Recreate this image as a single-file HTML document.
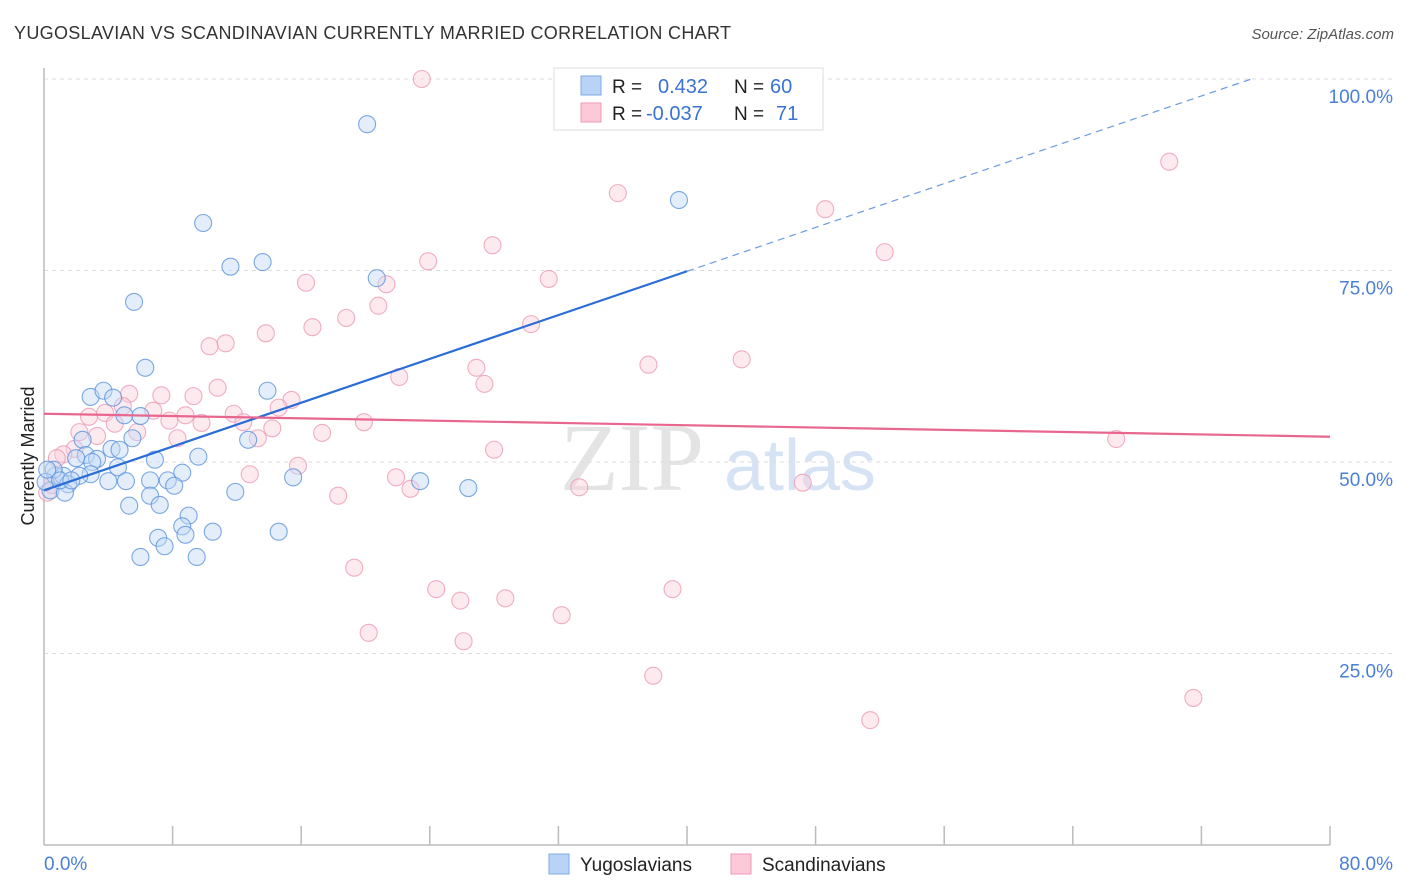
<!DOCTYPE html>
<html><head><meta charset="utf-8"><style>
body{margin:0;background:#fff;font-family:"Liberation Sans",sans-serif;}
#wrap{position:relative;width:1406px;height:892px;overflow:hidden;}
</style></head><body>
<div id="wrap">
<svg id="svg" width="1406" height="892" xmlns="http://www.w3.org/2000/svg">
<text x="14" y="39" font-size="18" fill="#333" letter-spacing="0.32">YUGOSLAVIAN VS SCANDINAVIAN CURRENTLY MARRIED CORRELATION CHART</text>
<text x="1394" y="39" font-size="15" fill="#555" font-style="italic" text-anchor="end">Source: ZipAtlas.com</text>
<text x="632" y="490" font-size="96" fill="#e4e4e4" font-family="Liberation Serif" text-anchor="middle">ZIP</text>
<text x="800" y="490" font-size="72" fill="#d6e3f5" text-anchor="middle">atlas</text>
<g id="grid"></g>
<g id="axes"></g>
<g id="pts"></g>
<g id="trend"></g>
<text transform="translate(34,456) rotate(-90)" font-size="18" fill="#222" text-anchor="middle">Currently Married</text>
<g>
<rect x="554" y="68" width="269" height="62" fill="#fff" stroke="#ddd"/>
<rect x="581" y="76" width="20" height="19" fill="#b8d3f5" stroke="#7fa9e6"/>
<rect x="581" y="103" width="20" height="19" fill="#fbc9d7" stroke="#ef9ab4"/>
<text x="612" y="93" font-size="19" fill="#222">R = </text>
<text x="658" y="93" font-size="20" fill="#3a72d4">0.432</text>
<text x="734" y="93" font-size="19" fill="#222">N = </text>
<text x="770" y="93" font-size="20" fill="#3a72d4">60</text>
<text x="612" y="120" font-size="19" fill="#222">R = </text>
<text x="646" y="120" font-size="20" fill="#3a72d4">-0.037</text>
<text x="734" y="120" font-size="19" fill="#222">N = </text>
<text x="776" y="120" font-size="20" fill="#3a72d4">71</text>
</g>
<g>
<rect x="549" y="854" width="20" height="20" fill="#b8d3f5" stroke="#7fa9e6"/>
<text x="580" y="871" font-size="19" fill="#222">Yugoslavians</text>
<rect x="731" y="854" width="20" height="20" fill="#fbc9d7" stroke="#ef9ab4"/>
<text x="762" y="871" font-size="19" fill="#222">Scandinavians</text>
</g>
</svg>
</div>
<script>
const yTicks=[25,50,75,100];
const yTickLabels=["25.0%","50.0%","75.0%","100.0%"];
const blueX=[20.1,39.5,9.9,11.6,13.6,20.7,5.6,6.3,2.9,3.7,4.3,13.9,5.0,6.0,2.4,5.5,12.7,4.2,4.7,2.6,2.0,3.3,6.9,9.6,3.0,4.6,2.9,0.7,1.2,2.2,8.6,15.5,23.4,6.6,7.7,4.0,5.1,8.1,1.5,0.4,1.3,11.9,26.4,6.6,5.3,7.2,9.0,8.6,10.5,14.6,7.1,8.8,7.5,6.0,9.5,0.6,0.1,0.2,1.0,1.7];
const blueY=[94.1,84.2,81.2,75.5,76.1,74.0,70.9,62.3,58.5,59.3,58.4,59.3,56.1,56.0,52.9,53.1,52.9,51.7,51.6,50.9,50.5,50.4,50.3,50.7,50.0,49.3,48.4,48.2,48.2,48.2,48.6,48.0,47.5,47.6,47.6,47.5,47.5,46.9,47.1,46.3,46.0,46.1,46.6,45.6,44.3,44.4,43.0,41.6,40.9,40.9,40.1,40.5,39.0,37.6,37.6,49.0,47.4,49.0,47.6,47.6];
const pinkX=[23.5,70.0,35.7,48.6,52.3,27.9,23.9,31.4,16.3,21.3,20.8,18.8,16.7,30.3,13.8,11.3,10.3,43.4,37.6,26.9,22.1,27.4,10.8,7.3,5.3,9.3,15.4,14.6,4.9,6.8,11.8,8.8,2.8,3.8,7.8,12.4,19.9,9.8,4.4,14.2,5.8,2.2,3.3,17.3,8.3,13.3,66.7,28.0,1.9,1.2,0.8,15.8,12.8,21.9,22.8,33.3,47.2,18.3,19.3,24.4,39.1,28.7,25.9,32.2,20.2,26.1,37.9,51.4,71.5,0.2,0.5];
const pinkY=[100.0,89.2,85.1,83.0,77.4,78.3,76.2,73.9,73.4,73.2,70.4,68.8,67.6,68.0,66.8,65.5,65.1,63.4,62.7,62.3,61.1,60.2,59.7,58.7,58.9,58.6,58.1,57.1,57.3,56.7,56.3,56.1,55.9,56.4,55.4,55.2,55.2,55.1,55.0,54.4,53.9,53.9,53.4,53.8,53.1,53.1,53.0,51.6,51.7,51.0,50.5,49.5,48.4,48.0,46.5,46.7,47.3,45.6,36.2,33.4,33.4,32.2,31.9,30.0,27.7,26.6,22.1,16.3,19.2,46.0,47.0];
const blueTrend=[46.3,0.715];
const pinkTrend=[56.3,-0.0375];
const NS="http://www.w3.org/2000/svg";
const X0=44,X1=1330,Y0=845,Y1=79;
function sx(v){return X0+(v/80)*(X1-X0);}
function sy(v){return Y0-(v/100)*(Y0-Y1);}
function mk(t,a,p){const e=document.createElementNS(NS,t);for(const k in a)e.setAttribute(k,a[k]);p.appendChild(e);return e;}
const grid=document.getElementById('grid'),axes=document.getElementById('axes'),pts=document.getElementById('pts'),trend=document.getElementById('trend');
yTicks.forEach((t,i)=>{
 const l=mk('line',{x1:X0,x2:1394,y1:sy(t),y2:sy(t),stroke:'#ddd','stroke-dasharray':'4,4'},grid);
 
 
 const tx=mk('text',{x:1393,y:sy(t)+24,'font-size':19,fill:'#4a7fd8','text-anchor':'end'},grid);
 tx.textContent=yTickLabels[i];
 
 
});
const ya=mk('line',{x1:X0,x2:X0,y1:68,y2:Y0,stroke:'#bbb','stroke-width':1.5},axes);


const xa=mk('line',{x1:X0,x2:X1,y1:Y0,y2:Y0,stroke:'#bbb','stroke-width':1.5},axes);


for(let k=1;k<=10;k++){
 const t=mk('line',{x1:sx(k*8),x2:sx(k*8),y1:826,y2:Y0,stroke:'#bbb','stroke-width':1.5},axes);
 
 
}
const xl0=mk('text',{x:44,y:870,'font-size':19,fill:'#4a7fd8'},axes);xl0.textContent='0.0%';


const xl1=mk('text',{x:1393,y:870,'font-size':19,fill:'#4a7fd8','text-anchor':'end'},axes);xl1.textContent='80.0%';


function dots(xs,ys,fill,stroke,name){xs.forEach((x,i)=>{
 const c=mk('circle',{cx:sx(x),cy:sy(ys[i]),r:8.5,fill:fill,'fill-opacity':0.45,stroke:stroke,'stroke-opacity':0.8,'stroke-width':1.1},pts);
 
 
});}
dots(pinkX,pinkY,'#fbd0dc','#ec9ab4','scandinavian-point');
dots(blueX,blueY,'#c3d9f6','#5a92dc','yugoslavian-point');
const bl=mk('line',{x1:sx(0),y1:sy(blueTrend[0]),x2:sx(40),y2:sy(blueTrend[0]+blueTrend[1]*40),stroke:'#2a6dd6','stroke-width':2.2},trend);


const xe=(100-blueTrend[0])/blueTrend[1];
const bd=mk('line',{x1:sx(40),y1:sy(blueTrend[0]+blueTrend[1]*40),x2:sx(xe),y2:sy(100),stroke:'#6b9be0','stroke-width':1.2,'stroke-dasharray':'7,5'},trend);


const pl=mk('line',{x1:sx(0),y1:sy(pinkTrend[0]),x2:sx(80),y2:sy(pinkTrend[0]+pinkTrend[1]*80),stroke:'#e8678f','stroke-width':2.2},trend);


</script>
</body></html>
